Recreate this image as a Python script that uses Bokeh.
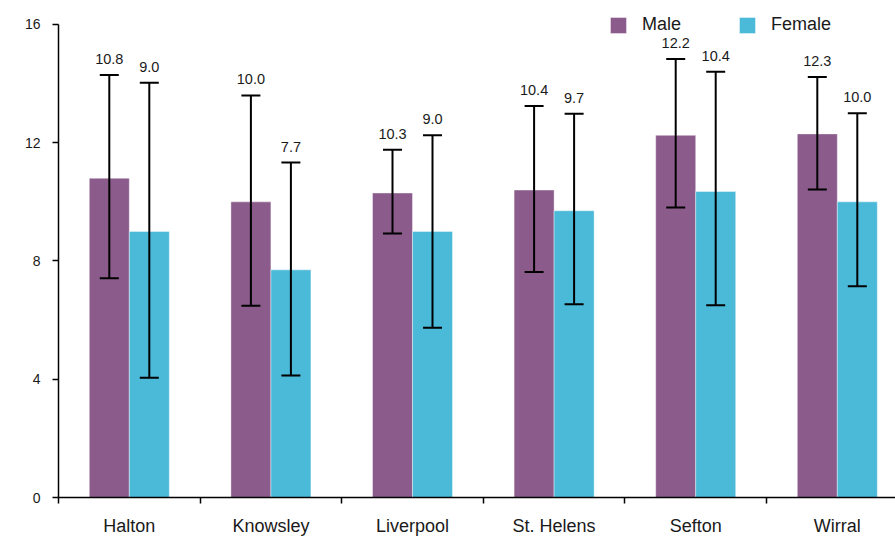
from bokeh.plotting import figure
from bokeh.models import ColumnDataSource, Range1d, FixedTicker, Whisker, TeeHead, Legend, LegendItem
from bokeh.core.properties import value
from bokeh.embed import file_html
from bokeh.resources import INLINE

categories = ["Halton", "Knowsley", "Liverpool", "St. Helens", "Sefton", "Wirral"]
male = [10.8, 10.0, 10.3, 10.4, 12.25, 12.3]
female = [9.0, 7.7, 9.0, 9.7, 10.35, 10.0]
male_lower = [7.42, 6.49, 8.93, 7.63, 9.81, 10.42]
male_upper = [14.29, 13.6, 11.76, 13.24, 14.83, 14.22]
female_lower = [4.05, 4.13, 5.74, 6.54, 6.5, 7.15]
female_upper = [14.03, 11.33, 12.25, 12.98, 14.4, 13.0]
male_labels = ["10.8", "10.0", "10.3", "10.4", "12.2", "12.3"]
female_labels = ["9.0", "7.7", "9.0", "9.7", "10.4", "10.0"]
y_ticks = [0, 4, 8, 12, 16]

MALE_COLOR = "#8B5C8B"
FEMALE_COLOR = "#4BB9D8"
FONT = "Liberation Sans"

bar_w = 0.2825
off = bar_w / 2
centers = [i + 0.5 for i in range(len(categories))]

src_m = ColumnDataSource(dict(x=[c - off for c in centers], top=male, lower=male_lower,
                              upper=male_upper, label=male_labels))
src_f = ColumnDataSource(dict(x=[c + off for c in centers], top=female, lower=female_lower,
                              upper=female_upper, label=female_labels))

p = figure(width=895, height=538, output_backend="svg", toolbar_location=None,
           x_range=Range1d(0, 5.911), y_range=Range1d(0, 16.541),
           min_border_left=58, min_border_right=0, min_border_top=8, min_border_bottom=41)
p.outline_line_color = None
p.xgrid.visible = False
p.ygrid.visible = False
p.background_fill_color = "white"

rm = p.vbar(x="x", top="top", width=bar_w, source=src_m, fill_color=MALE_COLOR,
            line_color="white", line_alpha=0.4, line_width=1)
rf = p.vbar(x="x", top="top", width=bar_w, source=src_f, fill_color=FEMALE_COLOR,
            line_color="white", line_alpha=0.4, line_width=1)

for src in (src_m, src_f):
    w = Whisker(source=src, base="x", upper="upper", lower="lower", dimension="height",
                line_color="black", line_width=2, level="overlay",
                upper_head=TeeHead(size=19, line_width=2, line_color="black"),
                lower_head=TeeHead(size=19, line_width=2, line_color="black"))
    p.add_layout(w)
    p.text(x="x", y="upper", text="label", source=src, y_offset=-11,
           text_align="center", text_baseline="bottom",
           text_font=value(FONT), text_font_size="14.5px", text_color="#1a1a1a")

# y axis
ya = p.yaxis[0]
ya.ticker = FixedTicker(ticks=y_ticks)
ya.bounds = (0, 16)
ya.axis_line_color = "black"
ya.axis_line_width = 1.5
ya.major_tick_line_color = "black"
ya.major_tick_line_width = 1.5
ya.major_tick_out = 6
ya.major_tick_in = 0
ya.minor_tick_line_color = None
ya.major_label_standoff = 12
ya.major_label_text_font = FONT
ya.major_label_text_font_size = "14px"
ya.major_label_text_color = "#1a1a1a"

# x axis
xa = p.xaxis[0]
xa.ticker = FixedTicker(ticks=centers, minor_ticks=list(range(len(categories) + 1)))
xa.major_label_overrides = {c: name for c, name in zip(centers, categories)}
xa.axis_line_color = "black"
xa.axis_line_width = 1.5
xa.major_tick_line_color = None
xa.minor_tick_line_color = "black"
xa.minor_tick_line_width = 1.5
xa.minor_tick_out = 6
xa.minor_tick_in = 0
xa.major_label_standoff = 12
xa.major_label_text_font = FONT
xa.major_label_text_font_size = "18px"
xa.major_label_text_color = "#1a1a1a"

legend = Legend(items=[LegendItem(label="Male", renderers=[rm]),
                       LegendItem(label="Female", renderers=[rf])],
                orientation="horizontal", location=(550, 462),
                glyph_width=20, glyph_height=20, label_height=20, label_standoff=14,
                spacing=56, padding=0, margin=0,
                border_line_color=None, background_fill_alpha=0,
                label_text_font=FONT, label_text_font_size="18px", label_text_color="#1a1a1a")
p.add_layout(legend)

open("out.html", "w").write(file_html(p, INLINE))
